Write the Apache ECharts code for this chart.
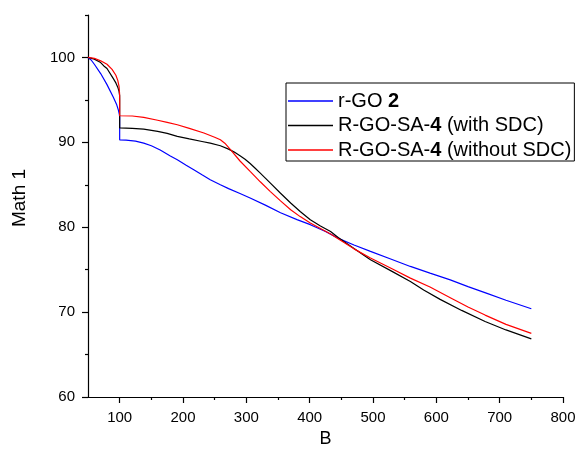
<!DOCTYPE html>
<html>
<head>
<meta charset="utf-8">
<script src="https://cdn.jsdelivr.net/npm/echarts@6/dist/echarts.min.js"></script>
<style>html,body{margin:0;padding:0;background:#fff}#c{width:579px;height:454px}</style>
</head>
<body>
<div id="c"></div>
<script>
const seriesNames = ['r-GO 2', 'R-GO-SA-4 (with SDC)', 'R-GO-SA-4 (without SDC)'];
const xMajorTicks = [100, 200, 300, 400, 500, 600, 700, 800];
const xMinorTicks = [150, 250, 350, 450, 550, 650, 750];
const yMajorTicks = [60, 70, 80, 90, 100];
const yMinorTicks = [65, 75, 85, 95, 105];

const rGO2 = [[50,100],[55,99.7],[60,99.2],[70,98.1],[80,96.8],[90,95.3],[95,94.5],[98,93.8],[99.5,93.3],[100,93.0],[100,90.3],[110,90.25],[125,90.15],[138,89.9],[150,89.6],[164,89.1],[180,88.4],[191,87.95],[205,87.3],[217,86.77],[230,86.18],[243,85.6],[259,85.0],[272,84.55],[290,83.98],[306,83.44],[330,82.6],[354,81.7],[380,80.9],[401,80.3],[425,79.5],[448,78.6],[470,77.9],[496,77.15],[530,76.2],[559,75.38],[590,74.6],[622,73.8],[650,73.0],[680,72.2],[710,71.4],[750,70.4]];
const withSDC = [[50,100],[60,99.8],[70,99.4],[75,99.0],[80,98.7],[90,97.5],[94,97.0],[97,96.5],[99,96.0],[100,95.5],[100,91.7],[120,91.65],[138,91.56],[160,91.3],[175,91.05],[191,90.7],[210,90.4],[230,90.1],[243,89.9],[259,89.6],[272,89.2],[281,88.85],[290,88.42],[298,88.0],[306,87.5],[314,86.95],[322,86.38],[338,85.2],[354,84.0],[370,82.85],[385,81.85],[401,80.88],[417,80.15],[433,79.5],[445,78.8],[470,77.5],[496,76.17],[530,74.8],[559,73.6],[580,72.6],[606,71.5],[640,70.2],[677,68.9],[710,67.9],[750,66.85]];
const withoutSDC = [[50,100],[60,99.9],[70,99.6],[80,99.2],[88,98.6],[94,97.9],[97,97.3],[99,96.6],[99.8,95.8],[100,95.0],[100,93.13],[120,93.1],[138,92.93],[160,92.6],[175,92.35],[191,92.07],[210,91.65],[233,91.1],[250,90.6],[259,90.3],[266,89.9],[275,89.13],[290,87.8],[306,86.57],[322,85.35],[338,84.2],[354,83.1],[370,82.06],[385,81.25],[401,80.5],[417,79.85],[433,79.2],[448,78.5],[470,77.45],[496,76.37],[530,75.1],[559,74.0],[590,72.95],[622,71.7],[650,70.6],[677,69.65],[710,68.55],[750,67.5]];

const FONT = 'Liberation Sans, Arial, sans-serif';
const chart = echarts.init(document.getElementById('c'), null, {renderer: 'canvas'});

const legendRich = {
  n: {fontFamily: FONT, fontSize: 20, color: '#000', lineHeight: 22},
  b: {fontFamily: FONT, fontSize: 20, color: '#000', fontWeight: 'bold', lineHeight: 22}
};
function legendFmt(name) {
  if (name === seriesNames[0]) return '{n|r-GO }{b|2}';
  if (name === seriesNames[1]) return '{n|R-GO-SA-}{b|4}{n| (with SDC)}';
  return '{n|R-GO-SA-}{b|4}{n| (without SDC)}';
}

const axisLineStyle = {color: '#000', width: 1.2};
chart.setOption({
  animation: false,
  backgroundColor: '#fff',
  grid: {left: 88, right: 16, top: 15, bottom: 57, containLabel: false},
  legend: {
    orient: 'vertical', left: 286, top: 83,
    padding: [7, 3, 0, 2], itemGap: 2.5, itemWidth: 45, itemHeight: 1.5,
    icon: 'rect',
    borderColor: '#000', borderWidth: 1, borderRadius: 0,
    data: seriesNames,
    formatter: legendFmt,
    textStyle: {fontFamily: FONT, fontSize: 20, color: '#000', lineHeight: 22, rich: legendRich}
  },
  xAxis: [{
    type: 'value', min: 50, max: 800, interval: 50,
    name: 'B', nameLocation: 'middle', nameGap: 32,
    nameTextStyle: {fontFamily: FONT, fontSize: 18, color: '#000'},
    axisLine: {show: true, onZero: false, lineStyle: axisLineStyle},
    axisTick: {show: true, length: 6, customValues: xMajorTicks, lineStyle: axisLineStyle},
    axisLabel: {customValues: xMajorTicks, fontFamily: FONT, fontSize: 15, color: '#000', margin: 13},
    splitLine: {show: false}
  }, {
    type: 'value', min: 50, max: 800, interval: 50, position: 'bottom',
    axisLine: {show: false, onZero: false},
    axisTick: {show: true, length: 3, customValues: xMinorTicks, lineStyle: axisLineStyle},
    axisLabel: {show: false},
    splitLine: {show: false}
  }],
  yAxis: [{
    type: 'value', min: 60, max: 105, interval: 5,
    name: 'Math 1', nameLocation: 'middle', nameGap: 59,
    nameTextStyle: {fontFamily: FONT, fontSize: 19, color: '#000', padding: [0, 0, 0, 16]},
    axisLine: {show: true, onZero: false, lineStyle: axisLineStyle},
    axisTick: {show: true, length: 6, customValues: yMajorTicks, lineStyle: axisLineStyle},
    axisLabel: {customValues: yMajorTicks, fontFamily: FONT, fontSize: 15, color: '#000', margin: 13},
    splitLine: {show: false}
  }, {
    type: 'value', min: 60, max: 105, interval: 5, position: 'left',
    axisLine: {show: false, onZero: false},
    axisTick: {show: true, length: 3, customValues: yMinorTicks, lineStyle: axisLineStyle},
    axisLabel: {show: false},
    splitLine: {show: false}
  }],
  series: [
    {name: seriesNames[0], type: 'line', data: rGO2, symbol: 'none', color: '#0000ff', lineStyle: {width: 1.2, color: '#0000ff'}},
    {name: seriesNames[1], type: 'line', data: withSDC, symbol: 'none', color: '#000000', lineStyle: {width: 1.2, color: '#000000'}},
    {name: seriesNames[2], type: 'line', data: withoutSDC, symbol: 'none', color: '#ff0000', lineStyle: {width: 1.2, color: '#ff0000'}}
  ]
});
</script>
</body>
</html>
